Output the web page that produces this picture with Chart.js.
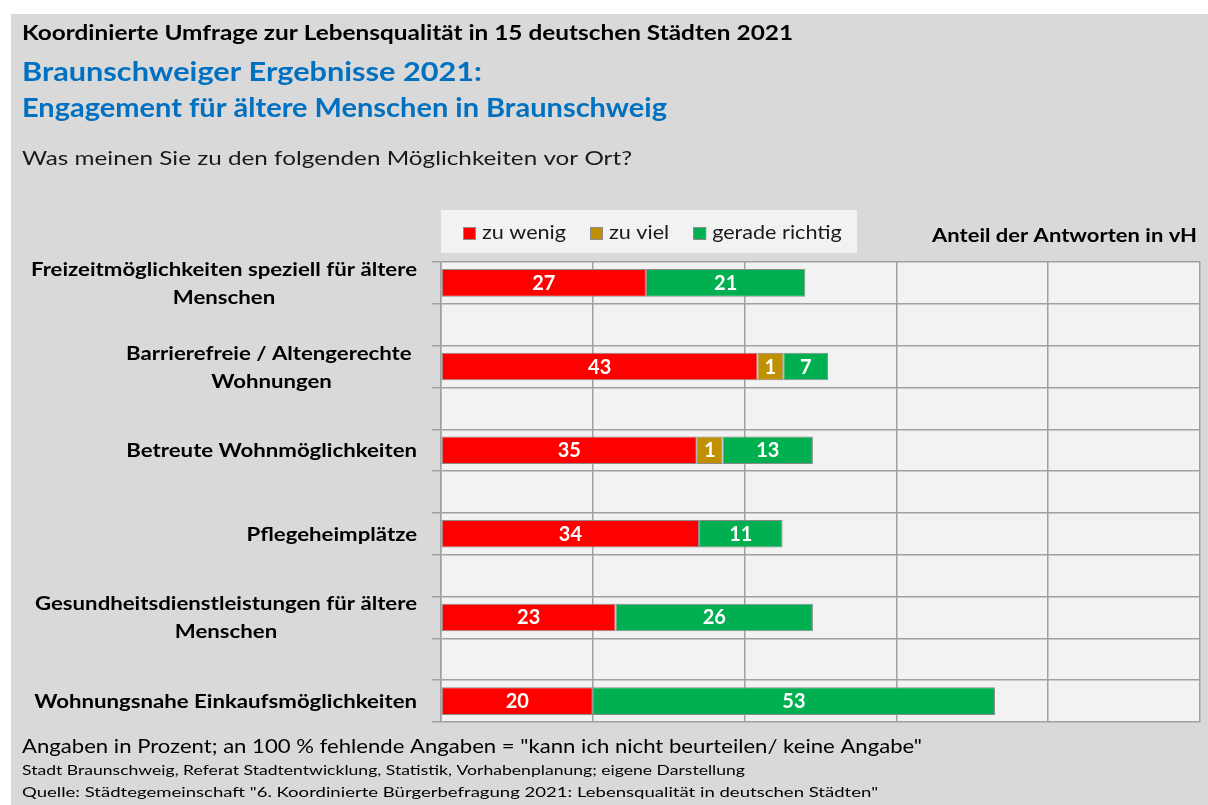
<!DOCTYPE html>
<html><head><meta charset="utf-8">
<script src="https://cdn.jsdelivr.net/npm/chart.js@4"></script>
<style>
html,body{margin:0;padding:0;background:#fff;}
#wrap{position:relative;width:1208px;height:805px;overflow:hidden;}
#bg{position:absolute;left:11px;top:14px;right:0;bottom:0;background:#d9d9d9;}
canvas{position:absolute;left:0;top:0;}
</style></head><body>
<div id="wrap"><div id="bg"></div><canvas id="c" width="1208" height="805"></canvas></div>
<script>
// ---- data ----
const categoryLines = [
  ["Freizeitmöglichkeiten speziell für ältere", "Menschen"],
  ["Barrierefreie / Altengerechte ", "Wohnungen"],
  ["Betreute Wohnmöglichkeiten"],
  ["Pflegeheimplätze"],
  ["Gesundheitsdienstleistungen für ältere", "Menschen"],
  ["Wohnungsnahe Einkaufsmöglichkeiten"]
];
// bar lengths as drawn in the picture (the small "zu viel" segments are drawn wider)
const zuWenig = [27, 41.7, 33.7, 34, 23, 20];
const zuViel = [null, 3.4, 3.4, null, null, null];
const geradeRichtig = [21, 5.9, 11.9, 11, 26, 53];
// value labels as printed on the bars
const zuWenigLabels = ["27", "43", "35", "34", "23", "20"];
const zuVielLabels = ["", "1", "1", "", "", ""];
const geradeRichtigLabels = ["21", "7", "13", "11", "26", "53"];
const seriesNames = ["zu wenig", "zu viel", "gerade richtig"];
const seriesColors = ["#ff0000", "#bf9000", "#00b050"];
const xTickValues = [0, 20, 40, 60, 80, 100];
const titleLine1 = "Koordinierte Umfrage zur Lebensqualität in 15 deutschen Städten 2021";
const titleLine2 = "Braunschweiger Ergebnisse 2021:";
const titleLine3 = "Engagement für ältere Menschen in Braunschweig";
const subtitle = "Was meinen Sie zu den folgenden Möglichkeiten vor Ort?";
const axisNote = "Anteil der Antworten in vH";
const footer1 = "Angaben in Prozent; an 100 % fehlende Angaben = \"kann ich nicht beurteilen/ keine Angabe\"";
const footer2 = "Stadt Braunschweig, Referat Stadtentwicklung, Statistik, Vorhabenplanung; eigene Darstellung";
const footer3 = "Quelle: Städtegemeinschaft \"6. Koordinierte Bürgerbefragung 2021: Lebensqualität in deutschen Städten\"";

// interleave an empty slot between categories (spacer rows)
function spread(arr, blank) {
  const out = [];
  arr.forEach((v, i) => { if (i > 0) out.push(blank); out.push(v); });
  return out;
}
const slotLabels = spread(categoryLines.map(l => l.join(" ").trim()), "");
const seriesData = [zuWenig, zuViel, geradeRichtig];
const seriesLabels = [zuWenigLabels, zuVielLabels, geradeRichtigLabels];

const FONT = "Lato, 'Open Sans', sans-serif";

function fitText(ctx, text, x, y, font, targetW, align, color) {
  ctx.save();
  ctx.font = font;
  ctx.fillStyle = color;
  ctx.textBaseline = "alphabetic";
  const w = ctx.measureText(text).width;
  const s = targetW ? targetW / w : 1;
  ctx.translate(x, y);
  ctx.scale(s, 1);
  ctx.textAlign = align || "left";
  ctx.fillText(text, 0, 0);
  ctx.restore();
}

const decor = {
  id: "decor",
  beforeDraw(chart) {
    const { ctx, chartArea: a } = chart;
    ctx.save();
    ctx.fillStyle = "#f2f2f2";
    ctx.fillRect(a.left, a.top, a.right - a.left, a.bottom - a.top);
    ctx.restore();
  },
  afterDraw(chart) {
    const ctx = chart.ctx;
    // titles
    fitText(ctx, titleLine1, 22, 40, "bold 20px " + FONT, 771, "left", "#000");
    fitText(ctx, titleLine2, 22, 81, "bold 27px " + FONT, 460, "left", "#0070c0");
    fitText(ctx, titleLine3, 22, 117, "bold 27px " + FONT, 645, "left", "#0070c0");
    fitText(ctx, subtitle, 22, 165, "20px " + FONT, 610, "left", "#1a1a1a");
    fitText(ctx, axisNote, 1197, 242, "bold 18px " + FONT, 265, "right", "#000");
    fitText(ctx, footer1, 22, 753, "19px " + FONT, 900, "left", "#000");
    fitText(ctx, footer2, 22, 775, "14px " + FONT, 723, "left", "#000");
    fitText(ctx, footer3, 22, 797, "14px " + FONT, 856, "left", "#000");

    // legend
    ctx.save();
    ctx.fillStyle = "#f2f2f2";
    ctx.fillRect(441, 210, 416, 43);
    const legendFont = "19px " + FONT;
    ctx.font = legendFont;
    const lScale = 84 / ctx.measureText(seriesNames[0]).width;
    let lx = 463;
    seriesNames.forEach((name, i) => {
      ctx.fillStyle = seriesColors[i];
      ctx.fillRect(lx, 227, 13, 13);
      ctx.strokeStyle = "#8c8c8c";
      ctx.lineWidth = 1;
      ctx.strokeRect(lx + 0.5, 227.5, 12, 12);
      ctx.font = legendFont;
      const tw = ctx.measureText(name).width * lScale;
      fitText(ctx, name, lx + 19, 239, legendFont, tw, "left", "#1a1a1a");
      lx += 19 + tw + 24;
    });
    ctx.restore();

    // category labels: block right-aligned, lines centered
    const yScale = chart.scales.y;
    const catFont = "bold 18px " + FONT;
    ctx.save();
    ctx.font = catFont;
    const cScale = 382 / ctx.measureText("Gesundheitsdienstleistungen für ältere").width;
    const lineH = 28;
    categoryLines.forEach((lines, i) => {
      const yc = yScale.getPixelForValue(i * 2);
      ctx.font = catFont;
      const widths = lines.map(t => ctx.measureText(t).width * cScale);
      const bw = Math.max(...widths);
      const cx = 417 - bw / 2;
      const y0 = yc - (lines.length - 1) * lineH / 2;
      lines.forEach((t, j) => {
        fitText(ctx, t, cx, y0 + j * lineH + 7, catFont, widths[j], "center", "#000");
      });
    });
    ctx.restore();

    // data labels
    chart.data.datasets.forEach((ds, di) => {
      const meta = chart.getDatasetMeta(di);
      const labels = spread(seriesLabels[di], "");
      meta.data.forEach((el, k) => {
        const v = ds.data[k];
        if (v === null || v === undefined || !labels[k]) return;
        const p = el.getProps(["x", "y", "base"], true);
        ctx.save();
        ctx.font = "bold 20px " + FONT;
        ctx.fillStyle = "#ffffff";
        ctx.textAlign = "center";
        ctx.textBaseline = "alphabetic";
        ctx.fillText(labels[k], (p.x + p.base) / 2, p.y + 7);
        ctx.restore();
      });
    });
  }
};

new Chart(document.getElementById("c"), {
  type: "bar",
  data: {
    labels: slotLabels,
    datasets: seriesNames.map((name, i) => ({
      label: name,
      data: spread(seriesData[i], null),
      backgroundColor: seriesColors[i],
      borderColor: "#8c8c8c",
      borderWidth: 1,
      borderSkipped: false,
      barPercentage: 0.66,
      categoryPercentage: 1.0
    }))
  },
  options: {
    indexAxis: "y",
    responsive: false,
    animation: false,
    events: [],
    layout: { padding: { left: 0, right: 8, top: 262, bottom: 83 } },
    plugins: { legend: { display: false }, tooltip: { enabled: false }, title: { display: false } },
    scales: {
      x: {
        stacked: true, min: 0, max: 100,
        afterBuildTicks: s => { s.ticks = xTickValues.map(v => ({ value: v })); },
        ticks: { display: false },
        grid: { color: "#a0a0a0", lineWidth: 1.5, drawTicks: false },
        border: { display: false },
        afterFit: s => { s.height = 0; }
      },
      y: {
        stacked: true,
        ticks: { display: false },
        grid: { offset: true, color: "#a0a0a0", lineWidth: 1.5, drawTicks: true, tickLength: 9 },
        border: { color: "#a0a0a0", width: 1.5 },
        afterFit: s => { s.width = 441; }
      }
    }
  },
  plugins: [decor]
});
</script>
</body></html>
